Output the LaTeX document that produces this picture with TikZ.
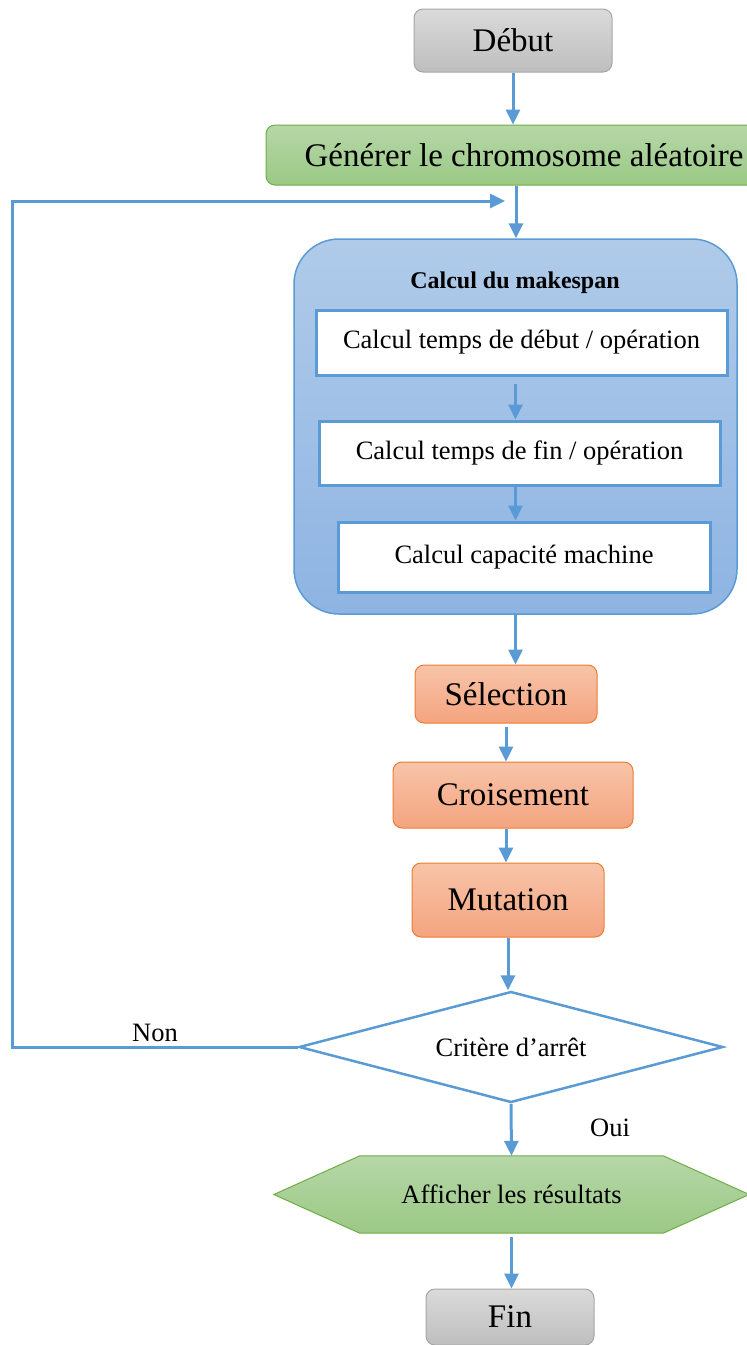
\documentclass[tikz,border=0pt]{standalone}
\usepackage{fontspec}
\setmainfont{Liberation Serif}
\usetikzlibrary{arrows.meta,shapes.geometric,calc}
\definecolor{lineblue}{HTML}{5B9BD5}
\definecolor{greytop}{HTML}{DADADA}
\definecolor{greybot}{HTML}{BEBEBE}
\definecolor{greyline}{HTML}{A6A6A6}
\definecolor{greentop}{HTML}{B6D7A8}
\definecolor{greenbot}{HTML}{9BC985}
\definecolor{greenline}{HTML}{70AD47}
\definecolor{orangetop}{HTML}{F8C4A9}
\definecolor{orangebot}{HTML}{F4A47F}
\definecolor{orangeline}{HTML}{ED7D31}
\definecolor{bluetop}{HTML}{B0CBE9}
\definecolor{bluebot}{HTML}{8EB4E3}
\begin{document}
\begin{tikzpicture}[x=1pt,y=-1pt,
  arr/.style={draw=lineblue,line width=3pt,-{Triangle[width=14pt,length=15pt]}},
  greybox/.style={draw=greyline,line width=1pt,rounded corners=9pt,top color=greytop,bottom color=greybot,
    inner sep=0pt,font=\fontsize{33}{36}\selectfont},
  greenbox/.style={draw=greenline,line width=1pt,rounded corners=9pt,top color=greentop,bottom color=greenbot,
    inner sep=0pt,font=\fontsize{33}{36}\selectfont},
  orangebox/.style={draw=orangeline,line width=1pt,rounded corners=9pt,top color=orangetop,bottom color=orangebot,
    inner sep=0pt,font=\fontsize{33}{36}\selectfont},
  calcbox/.style={draw=lineblue,line width=3pt,fill=white,inner sep=0pt,font=\fontsize{26.5}{30}\selectfont},
  label/.style={inner sep=0pt,font=\fontsize{26.5}{30}\selectfont}]
\useasboundingbox (0,0) rectangle (747,1345);

% start / first generation
\node[greybox,minimum width=198pt,minimum height=63pt] (debut) at (513,40.5) {Début};
\node[greenbox,minimum width=500pt,minimum height=60pt] (gen) at (516,155) {\hspace*{16pt}Générer le chromosome aléatoire};

% makespan evaluation block
\node[draw=lineblue,line width=1.5pt,rounded corners=45pt,top color=bluetop,bottom color=bluebot,
      minimum width=443pt,minimum height=375pt,inner sep=0pt] (cont) at (515.5,426.5) {};
\node[inner sep=0pt,font=\fontsize{24}{28}\selectfont\bfseries] (title) at (515,283) {Calcul du makespan};
\node[calcbox,minimum width=411pt,minimum height=65pt] (box1) at (521.5,342.5) {Calcul temps de début / opération};
\node[calcbox,minimum width=401pt,minimum height=64pt] (box2) at (519.5,453) {Calcul temps de fin / opération};
\node[calcbox,minimum width=372pt,minimum height=70pt] (box3) at (524,557) {Calcul capacité machine};

% genetic operators
\node[orangebox,minimum width=182pt,minimum height=58pt] (sel) at (506,694) {Sélection};
\node[orangebox,minimum width=240pt,minimum height=66pt] (croi) at (513,795) {Croisement};
\node[orangebox,minimum width=192pt,minimum height=74pt] (mut) at (508,900) {Mutation};

% stopping test
\node[diamond,draw=lineblue,line width=2.5pt,fill=white,minimum width=424pt,minimum height=111pt,
      inner sep=0pt,aspect=3.8] (crit) at (511,1047)
      {\fontsize{26.5}{30}\selectfont Critère d’arrêt};

% results display (hexagon)
\node[minimum width=475pt,minimum height=77pt,inner sep=0pt] (hex) at (511.5,1194.5) {};
\shade[top color=greentop,bottom color=greenbot,draw=greenline,line width=1pt]
  (hex.west) -- ($(hex.north west)+(86,0)$) -- ($(hex.north east)+(-86,0)$) -- (hex.east)
  -- ($(hex.south east)+(-86,0)$) -- ($(hex.south west)+(86,0)$) -- cycle;
\node[label] at (hex.center) {Afficher les résultats};

\node[greybox,minimum width=168pt,minimum height=56pt] (fin) at (510,1317) {\raisebox{-3pt}{Fin}};

% labels
\node[label] (non) at (155,1033) {Non};
\node[label] (oui) at (610,1128) {Oui};

% connectors
\coordinate (corner) at (12,201);
\coordinate (loopend) at (505,201);
\draw[arr] (debut.south) -- (debut.south |- gen.north);
\draw[arr] (gen.south) -- (gen.south |- cont.north);
\draw[arr] ([yshift=-7pt]box1.south -| cont.center) -- (cont.center |- box2.north);
\draw[arr] (box2.south -| cont.center) -- (cont.center |- box3.north);
\draw[arr] (cont.south) -- (cont.south |- sel.north);
\draw[arr] ([yshift=-3pt]sel.south) -- (sel.south |- croi.north);
\draw[arr] (croi.south -| sel.south) -- (sel.south |- mut.north);
\draw[arr] (mut.south) -- (mut.south |- crit.north);
\draw[arr] (crit.south) -- (hex.north);
\draw[arr] ([yshift=-4pt]hex.south) -- (hex.south |- fin.north);
\draw[arr] (crit.west) -- (crit.west -| corner) -- (corner) -- (loopend);
\end{tikzpicture}
\end{document}
